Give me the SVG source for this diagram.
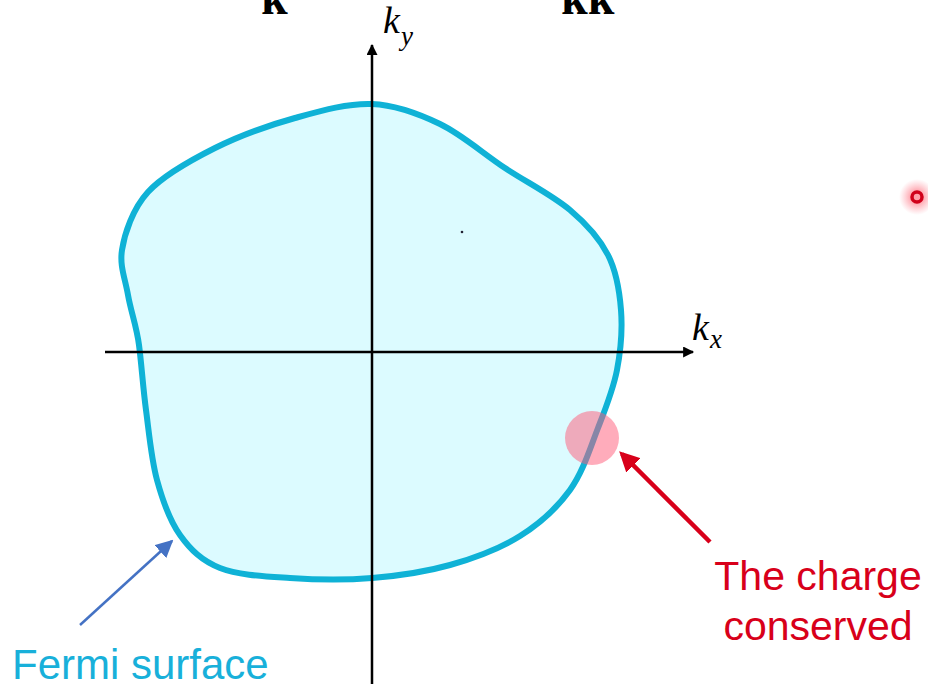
<svg xmlns="http://www.w3.org/2000/svg" width="928" height="684" viewBox="0 0 928 684">
<defs>
<style>
.axis{stroke:#000;stroke-width:2.5;fill:none}
.math{font-family:"Liberation Serif","DejaVu Serif",serif;font-style:italic;fill:#000}
.bold{font-family:"Liberation Serif","DejaVu Serif",serif;font-weight:bold;fill:#000}
.lbl{font-family:"Liberation Sans",Arial,sans-serif;font-size:41px}
</style>
<marker id="ah" viewBox="0 0 10 10" refX="9" refY="5" markerWidth="12" markerHeight="11" orient="auto" markerUnits="userSpaceOnUse"><path d="M0,0 L10,5 L0,10 Z" fill="#000"/></marker>
<marker id="ahBlue" viewBox="0 0 10 10" refX="9" refY="5" markerWidth="7" markerHeight="7" orient="auto"><path d="M0,0 L10,5 L0,10 Z" fill="#4472c4"/></marker>
<marker id="ahRed" viewBox="0 0 10 10" refX="8" refY="5" markerWidth="4.5" markerHeight="4.5" orient="auto"><path d="M0,0 L10,5 L0,10 Z" fill="#d8001a"/></marker>
<radialGradient id="glow"><stop offset="0.3" stop-color="#ff6070" stop-opacity="0.6"/><stop offset="1" stop-color="#ff8090" stop-opacity="0"/></radialGradient>
</defs>
<rect width="928" height="684" fill="#fff"/>
<g id="fermi-surface">
<path d="M372,104 C396.2,105 417.8,113.3 440,124 C462.2,134.7 483.3,153.7 505,168 C526.7,182.3 552.8,195.5 570,210 C587.2,224.5 599.5,238.3 608,255 C616.5,271.7 619.5,290.8 621,310 C622.5,329.2 620.8,350.3 617,370 C613.2,389.7 605.8,408 598,428 C590.2,448 583,472 570,490 C557,508 540,523.5 520,536 C500,548.5 474.7,558 450,565 C425.3,572 398.7,575.8 372,578 C345.3,580.2 315.3,579.7 290,578 C264.7,576.3 238.3,575.2 220,568 C201.7,560.8 190.5,549.7 180,535 C169.5,520.3 162.7,500.8 157,480 C151.3,459.2 149,432.5 146,410 C143,387.5 141.5,364 139,345 C136.5,326 131,312 128,295 C125,278 119.5,266 122,250 C124.5,234 132.5,209 148,192 C163.5,175 190.5,160.3 215,148 C239.5,135.7 268.8,125.3 295,118 C321.2,110.7 347.8,103 372,104 Z" fill="#dcfbff" stroke="#0fb2d6" stroke-width="6"/>
</g>
<g id="axes">
<line class="axis" x1="105" y1="352" x2="693" y2="352" marker-end="url(#ah)"/>
<line class="axis" x1="372" y1="684" x2="372" y2="45" marker-end="url(#ah)"/>
<circle cx="462" cy="232" r="1.3" fill="#223"/>
</g>
<g id="labels-math">
<text class="math" x="383" y="33" font-size="38">k</text>
<text class="math" x="401" y="45" font-size="27">y</text>
<text class="math" x="692" y="340" font-size="38">k</text>
<text class="math" x="710" y="348" font-size="27">x</text>
<text class="bold" x="261" y="14" font-size="48">k</text>
<text class="bold" x="561" y="14" font-size="48">kk</text>
</g>
<g id="charge-point">
<circle cx="592" cy="438" r="27" fill="#ff5a78" fill-opacity="0.5"/>
</g>
<g id="connectors">
<line x1="80" y1="625" x2="172" y2="541" stroke="#4472c4" stroke-width="2.5" marker-end="url(#ahBlue)"/>
<line x1="710" y1="542" x2="622" y2="454" stroke="#d8001a" stroke-width="4.5" marker-end="url(#ahRed)"/>
</g>
<g id="label-fermi">
<text class="lbl" x="12" y="679" fill="#18b0da" style="font-size:42px">Fermi surface</text>
</g>
<g id="label-charge">
<text class="lbl" x="818" y="590" fill="#d8001a" text-anchor="middle">The charge</text>
<text class="lbl" x="818" y="640" fill="#d8001a" text-anchor="middle">conserved</text>
</g>
<g id="red-dot">
<circle cx="917" cy="197" r="18" fill="url(#glow)"/>
<circle cx="917" cy="197" r="5" fill="none" stroke="#d0001a" stroke-width="3.5"/>
</g>
</svg>
